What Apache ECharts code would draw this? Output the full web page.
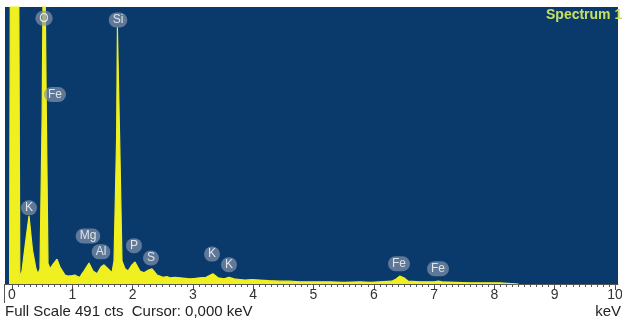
<!DOCTYPE html>
<html><head><meta charset="utf-8">
<script src="https://cdn.jsdelivr.net/npm/echarts@6/dist/echarts.min.js"></script>
<style>html,body{margin:0;padding:0;background:#fff}#c{width:622px;height:320px}</style>
</head><body><div id="c"></div>
<script>
// Spectrum samples (keV, counts)
var energies = [-0.04,-0.02,0.10,0.13,0.166,0.22,0.282,0.34,0.398,0.431,0.464,0.50,0.515,0.55,0.57,0.597,0.63,0.68,0.746,0.796,0.879,0.93,0.962,1.00,1.045,1.09,1.128,1.16,1.194,1.277,1.343,1.41,1.476,1.526,1.592,1.658,1.692,1.735,1.748,1.772,1.785,1.824,1.874,1.924,1.99,2.04,2.122,2.189,2.272,2.322,2.405,2.504,2.57,2.62,2.70,2.786,2.87,2.952,3.04,3.118,3.217,3.333,3.416,3.516,3.599,3.682,3.78,3.864,3.98,4.113,4.25,4.444,4.6,4.776,5.0,5.27,5.5,5.77,5.95,6.1,6.3,6.37,6.43,6.5,6.57,6.77,7.0,7.07,7.13,7.35,7.6,7.85,8.09,8.4];
var counts   = [0,900,900,12,23,70,121,60,27,18,27,300,520,520,300,37,27,35,44,30,16,14,12,15,16,13,12,18,23,37,23,18,30,34,27,20,41,260,455,455,260,41,27,23,34,39,23,20,25,27,16,12,13,11,12,11,10,9,10,11,12,18,11,9,12,9,8,7,8,7,6,5,5,4,4,4,3,4,3,4,5,9,14,11,5,4,4,5,4,3,2,2,2,0];
// Element labels: name, energy (keV), bubble height (counts)
var peakNames   = ['O','Si','Fe','K','Mg','Al','P','S','K','K','Fe','Fe'];
var peakEnergy  = [0.531,1.758,0.713,0.282,1.26,1.476,2.023,2.305,3.317,3.599,6.418,7.065];
var peakHeight  = [471,468,336,135,85,57,68,46,53,34,36,27];
var tickLabels  = [0,1,2,3,4,5,6,7,8,9,10];
var fullScale = 491;

var minorTicks = [];
for (var i = 0; i <= 100; i++) minorTicks.push(+(i/10).toFixed(1));

var chart = echarts.init(document.getElementById('c'), null, {renderer:'canvas'});
var FONT = '"Liberation Sans", Arial, sans-serif';
chart.setOption({
  animation:false,
  backgroundColor:'#ffffff',
  grid:{left:5,right:4,top:7,bottom:36,outerBoundsMode:'none',show:true,backgroundColor:'#0a3a6c',borderWidth:0},
  xAxis:[{
    type:'value',min:-0.116,max:10.05,
    axisLine:{show:true,onZero:false,lineStyle:{color:'#555',width:1}},
    axisTick:{show:true,customValues:tickLabels,length:6,lineStyle:{color:'#444'}},
    axisLabel:{customValues:tickLabels,color:'#333',fontSize:14,fontFamily:FONT,margin:4},
    splitLine:{show:false}
  },{
    type:'value',min:-0.116,max:10.05,position:'bottom',
    axisLine:{show:false},
    axisTick:{show:true,customValues:minorTicks,length:3,lineStyle:{color:'#555'}},
    axisLabel:{show:false},splitLine:{show:false}
  }],
  yAxis:{type:'value',min:0,max:fullScale,show:false,splitLine:{show:false}},
  series:[{
    type:'line',xAxisIndex:0,
    data:energies.map(function(e,i){return [e,counts[i]];}),
    showSymbol:false,symbol:'none',
    lineStyle:{color:'#f0f020',width:1.2},
    areaStyle:{color:'#f0f020',opacity:1},
    clip:true
  },{
    type:'scatter',xAxisIndex:0,
    data:peakEnergy.map(function(e,i){return {value:[e,peakHeight[i]],name:peakNames[i]};}),
    symbolSize:0,
    label:{show:true,position:'inside',formatter:'{b}',color:'#ffffff',fontSize:12,fontFamily:FONT,
      backgroundColor:'rgba(135,150,172,0.85)',borderRadius:8,padding:[2,4,1,4]},
    z:5
  }],
  graphic:[
    {type:'text',left:546,top:8,style:{text:'Spectrum 1',fill:'#c8e060',font:'bold 14px '+FONT}},
    {type:'text',left:5,top:304,style:{text:'Full Scale 491 cts  Cursor: 0,000 keV',fill:'#222',font:'15px '+FONT}},
    {type:'text',right:1,top:304,style:{text:'keV',fill:'#222',font:'15px '+FONT}},
    {type:'line',shape:{x1:4.5,y1:284,x2:4.5,y2:303},style:{stroke:'#555',lineWidth:1}}
  ]
});
</script></body></html>
